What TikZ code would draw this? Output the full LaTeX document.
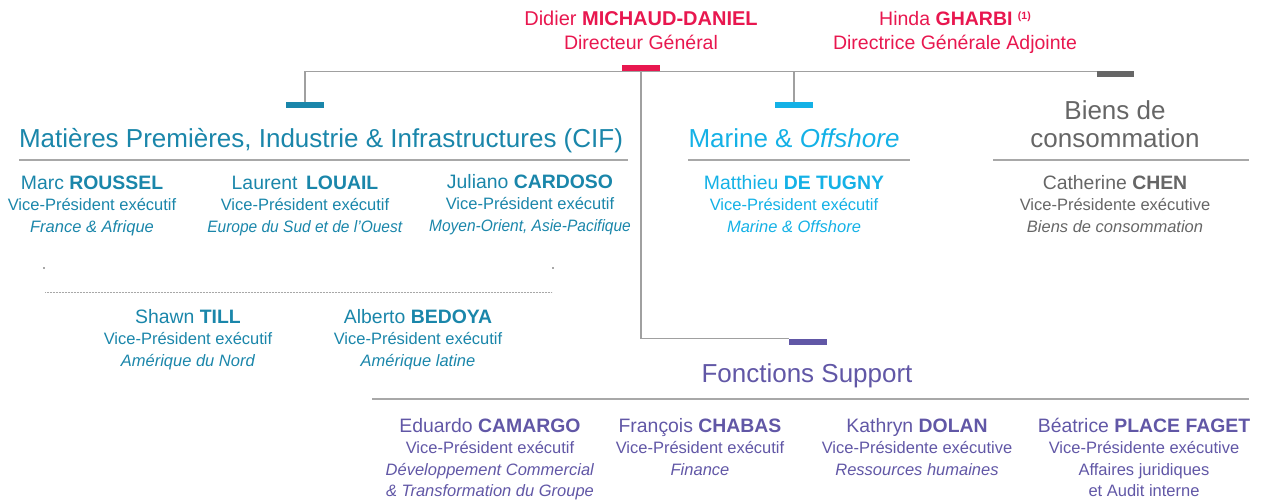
\documentclass[tikz,border=0pt]{standalone}
\usepackage{fontspec}
\usepackage{graphicx}
\setmainfont{Liberation Sans}
\definecolor{bvred}{HTML}{E8174F}
\definecolor{bvteal}{HTML}{1A86AA}
\definecolor{bvcyan}{HTML}{14B1E6}
\definecolor{bvpurple}{HTML}{6157A6}
\definecolor{bvgrey}{HTML}{666666}
\definecolor{linegrey}{HTML}{A0A0A0}
\definecolor{rulegrey}{HTML}{A8A8A8}
\newcommand\pname[2]{{\fontsize{19.4}{21.5}\selectfont #1 \textbf{#2}}}
\newcommand\squeeze[1]{\scalebox{0.94}[1]{#1}}
\begin{document}
\begin{tikzpicture}[x=1pt,y=-1pt,
  tab/.style={rectangle, inner sep=0pt, minimum width=38pt, minimum height=6pt, draw=none},
  conn/.style={draw=linegrey, line width=1.3pt},
  rulel/.style={draw=rulegrey, line width=1.5pt},
  person/.style={align=center, inner sep=0pt, anchor=base, font=\fontsize{16.5}{21.5}\selectfont},
  ttl/.style={align=center, inner sep=0pt, anchor=base, font=\fontsize{26}{28}\selectfont},
  top/.style={align=center, inner sep=0pt, anchor=base, text=bvred, font=\fontsize{19.5}{24}\selectfont},
]
\useasboundingbox (0,0) rectangle (1263,500);

% tabs
\node[tab, fill=bvred] (redtab) at (641,68.5) {};
\node[tab, fill=bvteal] (tealtab) at (305,105) {};
\node[tab, fill=bvcyan] (cyantab) at (794,105) {};
\node[tab, fill=bvgrey, minimum width=37pt] (greytab) at (1115.5,74.5) {};
\node[tab, fill=bvpurple] (purpletab) at (808,342) {};

% connectors
\draw[conn] (tealtab.north) |- (greytab.north west);
\draw[conn] (cyantab.north) -- (cyantab.north |- redtab.south);
\draw[conn] (redtab.south) |- (purpletab.north west);

% top management (anchor = baseline of last line)
\node[top] (dg) at (641,50) {{\fontsize{20}{24}\selectfont Didier \textbf{MICHAUD-DANIEL}}\\Directeur Général};
\node[top] (dga) at (955,50) {Hinda \textbf{GHARBI} \raisebox{6pt}{\fontsize{10.5}{10}\selectfont\bfseries (1)}\\Directrice Générale Adjointe};

% division titles
\node[ttl, text=bvteal] (cif) at (321,147) {Matières Premières, Industrie \& Infrastructures (CIF)};
\node[ttl, text=bvcyan] (mo) at (794,147) {Marine \& \textit{Offshore}};
\node[ttl, text=bvgrey] (bc) at (1115,147) {Biens de\\consommation};
\node[ttl, text=bvpurple] (fs) at (807,382) {Fonctions Support};

% underlines
\draw[rulel] (19,160) -- (628,160);
\draw[rulel] (688,160) -- (910,160);
\draw[rulel] (993,160) -- (1249,160);
\draw[rulel] (372,399) -- (1249,399);

% CIF people
\node[person, text=bvteal] (roussel) at (92,232) {\pname{Marc}{ROUSSEL}\\Vice-Président exécutif\\\textit{France \& Afrique}};
\node[person, text=bvteal] (louail) at (305,232) {\pname{Laurent\,}{LOUAIL}\\Vice-Président exécutif\\\squeeze{\textit{Europe du Sud et de l’Ouest}}};
\node[person, text=bvteal] (cardoso) at (530,231) {\pname{Juliano}{CARDOSO}\\Vice-Président exécutif\\\squeeze{\textit{Moyen-Orient, Asie-Pacifique}}};
\node[person, text=bvteal] (till) at (188,366) {\pname{Shawn}{TILL}\\Vice-Président exécutif\\\textit{Amérique du Nord}};
\node[person, text=bvteal] (bedoya) at (418,366) {\pname{Alberto}{BEDOYA}\\Vice-Président exécutif\\\textit{Amérique latine}};

% dotted separator
\fill[rulegrey] (43.3,267.3) rectangle (44.7,268.7);
\fill[rulegrey] (552.3,267.3) rectangle (553.7,268.7);
\draw[rulegrey, line width=0.7pt, dash pattern=on 0.6pt off 0.9pt] (45,292) -- (552,292);

% Marine
\node[person, text=bvcyan] (detugny) at (794,232) {\pname{Matthieu}{DE TUGNY}\\Vice-Président exécutif\\\textit{Marine \& Offshore}};

% Biens de consommation
\node[person, text=bvgrey] (chen) at (1115,232) {\pname{Catherine}{CHEN}\\Vice-Présidente exécutive\\\textit{Biens de consommation}};

% Fonctions support
\node[person, text=bvpurple] (camargo) at (490,496.5) {\pname{Eduardo}{CAMARGO}\\Vice-Président exécutif\\\textit{Développement Commercial}\\\textit{\& Transformation du Groupe}};
\node[person, text=bvpurple] (chabas) at (700,475) {\pname{François}{CHABAS}\\Vice-Président exécutif\\\textit{Finance}};
\node[person, text=bvpurple] (dolan) at (917,475) {\pname{Kathryn}{DOLAN}\\Vice-Présidente exécutive\\\textit{Ressources humaines}};
\node[person, text=bvpurple] (faget) at (1144,496.5) {\pname{Béatrice}{PLACE FAGET}\\Vice-Présidente exécutive\\Affaires juridiques\\et Audit interne};
\end{tikzpicture}
\end{document}
